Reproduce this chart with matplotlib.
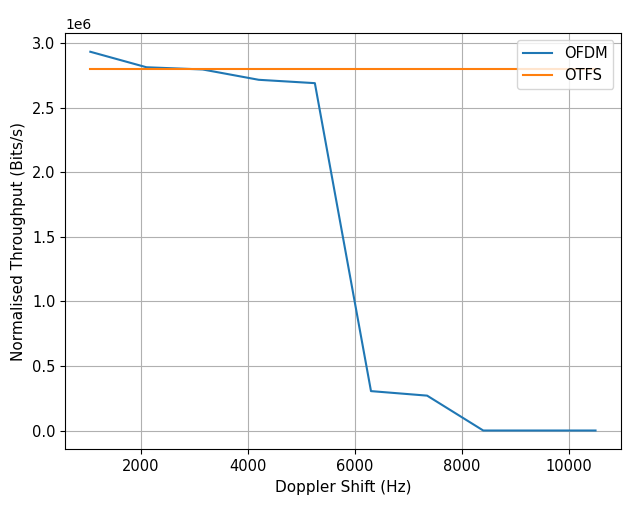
import numpy as np
import matplotlib
matplotlib.use("Agg")
import matplotlib.pyplot as plt

doppler = [1050, 2100, 3150, 4200, 5250, 6300, 7350, 8400, 9450, 10500]
ofdm = [2.932e6, 2.812e6, 2.795e6, 2.715e6, 2.689e6, 0.305e6, 0.270e6, 0.0, 0.0, 0.0]
otfs = [2.8e6] * len(doppler)

fig, ax = plt.subplots(figsize=(6.38, 5.05), dpi=100)
fig.subplots_adjust(left=0.102, right=0.973, top=0.935, bottom=0.110)

ax.plot(doppler, ofdm, label='OFDM')
ax.plot(doppler, otfs, label='OTFS')
ax.set_xlabel('Doppler Shift (Hz)', fontsize=11)
ax.set_ylabel('Normalised Throughput (Bits/s)', fontsize=11)
ax.tick_params(labelsize=10.5)
ax.grid(True)
ax.legend(loc='upper right', fontsize=10.5)

fig.savefig('out.png')
